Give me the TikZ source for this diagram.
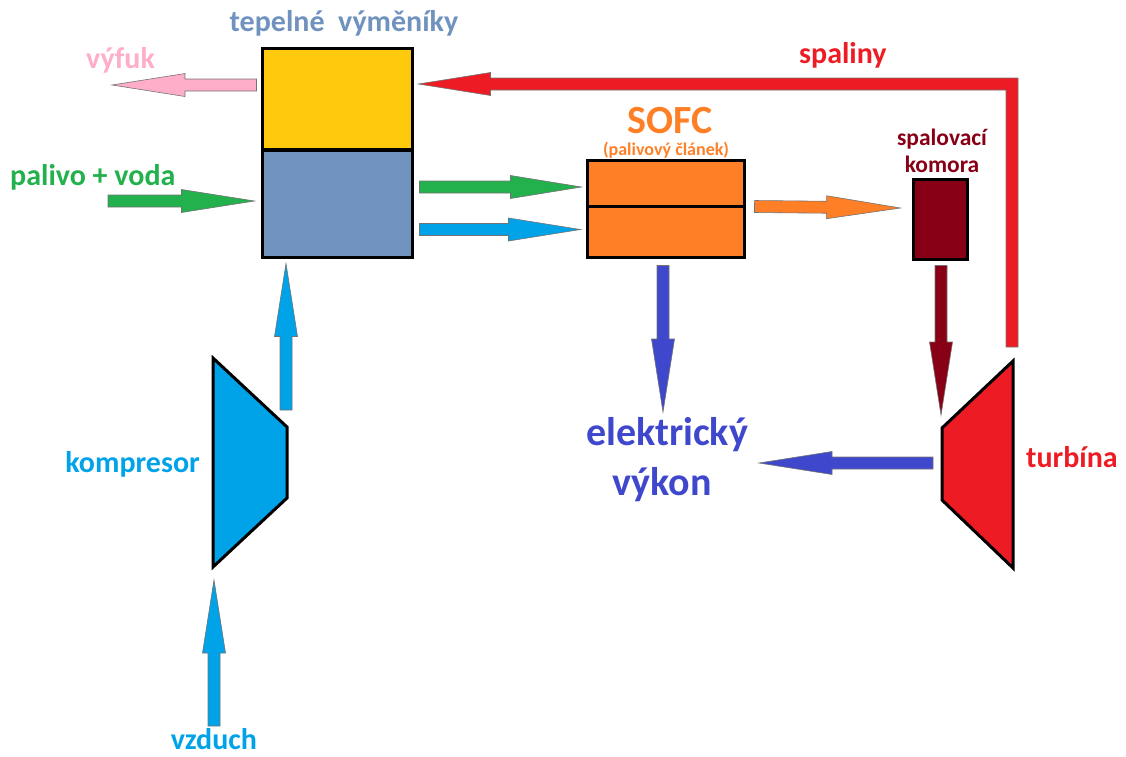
\documentclass[tikz,border=0pt]{standalone}
\usepackage{fontspec}
\setmainfont{Carlito}
\usetikzlibrary{calc}
\definecolor{hxblue}{RGB}{112,146,190}
\definecolor{hxgold}{RGB}{255,201,14}
\definecolor{ppink}{RGB}{255,174,201}
\definecolor{pred}{RGB}{237,28,36}
\definecolor{pgreen}{RGB}{34,177,76}
\definecolor{pturq}{RGB}{0,162,232}
\definecolor{porange}{RGB}{255,127,39}
\definecolor{pdarkred}{RGB}{136,0,21}
\definecolor{pindigo}{RGB}{63,72,204}
\newcommand{\barrow}[4]{%
  \coordinate (ba-h) at ($(#3)!#4!(#2)$);
  \filldraw[fill=#1, draw=black!55, line width=0.6pt, line join=miter]
    ($(#2)!6pt!90:(#3)$) -- ($(ba-h)!6pt!-90:(#2)$) -- ($(ba-h)!11.5pt!-90:(#2)$) -- (#3)
    -- ($(ba-h)!11.5pt!90:(#2)$) -- ($(ba-h)!6pt!90:(#2)$) -- ($(#2)!6pt!-90:(#3)$) -- cycle;
}
\begin{document}
\begin{tikzpicture}[x=1pt,y=-1pt,
  lbl/.style={inner sep=0pt, font=\bfseries\fontsize{30}{34}\selectfont},
  big/.style={inner sep=0pt, font=\bfseries\fontsize{40}{44}\selectfont},
  box/.style={draw=black, line width=3pt, inner sep=0pt, line join=miter},
  machine/.style={draw=black, line width=3pt, line join=miter}]
\useasboundingbox (0,0) rectangle (1126,756);

% heat exchangers
\node[box, fill=hxgold, minimum width=150pt, minimum height=101pt] (hxt) at (337,98.5) {};
\node[box, fill=hxblue, minimum width=150pt, minimum height=107pt] (hxb) at (337,203.5) {};
% SOFC
\node[box, fill=porange, minimum width=157pt, minimum height=46pt] (sofct) at (665.5,183) {};
\node[box, fill=porange, minimum width=157pt, minimum height=51pt] (sofcb) at (665.5,231.5) {};
% combustion chamber
\node[box, fill=pdarkred, minimum width=54pt, minimum height=80pt] (comb) at (940,219) {};

% compressor and turbine
\draw[machine, fill=pturq] (213,358) coordinate (compTL) -- (287,427) coordinate (compTR)
  -- (287,498) -- (213,567) coordinate (compBL) -- cycle;
\draw[machine, fill=pred] (942,428) -- (1013,361) coordinate (turbTR)
  -- (1013,568) -- (942,500) -- cycle;

% labels
\node[lbl, text=hxblue, anchor=base] (tHX) at (344,31) {tepelné\hspace{0.45em}výměníky};
\node[lbl, text=ppink, anchor=base west] (tVyfuk) at (86,68) {výfuk};
\node[lbl, text=pgreen, anchor=base west] (tPal) at (10,185) {palivo + voda};
\node[big, text=porange, anchor=base] (tSOFC) at (670,133) {SOFC};
\node[inner sep=0pt, font=\bfseries\fontsize{18}{20}\selectfont, text=porange, anchor=base] (tSOFC2) at (666,155) {(palivový článek)};
\node[inner sep=0pt, font=\bfseries\fontsize{23.5}{26}\selectfont, text=pdarkred, anchor=base] (tSp1) at (942,145) {spalovací};
\node[inner sep=0pt, font=\bfseries\fontsize{23.5}{26}\selectfont, text=pdarkred, anchor=base] (tSp2) at (942,172) {komora};
\node[big, text=pindigo, anchor=base] (tEl1) at (667,445) {elektrický};
\node[big, text=pindigo, anchor=base] (tEl2) at (662,495) {výkon};
\node[lbl, text=pturq, anchor=base east] (tKomp) at (200,472) {kompresor};
\node[lbl, text=pred, anchor=base west] (tSpal) at (799,63) {spaliny};
\node[lbl, text=pred, anchor=base west] (tTurb) at (1026,467) {turbína};
\node[lbl, text=pturq, anchor=base] (tVzd) at (214,749) {vzduch};

% arrow end points
\coordinate (vyfS) at ($(hxt.west)+(-4,-13.5)$);
\coordinate (vyfT) at (112,85);
\coordinate (palS) at (108,201);
\coordinate (palT) at ($(hxb.west)+(-6,-2.5)$);
\coordinate (grS) at ($(hxb.east)+(6,-16.5)$);
\coordinate (grT) at ($(sofct.west)+(-4,4)$);
\coordinate (blS) at ($(hxb.east)+(6,26)$);
\coordinate (blT) at ($(sofcb.west)+(-5,-2)$);
\coordinate (orS) at ($(sofcb.north east)+(9,2)$);
\coordinate (orT) at ($(comb.west)+(-11,-11)$);
\coordinate (elS) at ($(sofcb.south)+(-2.5,7)$);
\coordinate (elT) at (663,412);
\coordinate (crS) at ($(comb.south)+(1,5)$);
\coordinate (crT) at (941,415);
\coordinate (cuS) at (286,410);
\coordinate (cuT) at ($(hxb.south)+(-51,5)$);
\coordinate (vzS) at (214,726);
\coordinate (vzT) at (214,580);
\coordinate (tlS) at (933,463);
\coordinate (tlT) at (759,463);

\barrow{ppink}{vyfS}{vyfT}{73pt}
\barrow{pgreen}{palS}{palT}{73pt}
\barrow{pgreen}{grS}{grT}{71pt}
\barrow{pturq}{blS}{blT}{72pt}
\barrow{porange}{orS}{orT}{74pt}
\barrow{pindigo}{elS}{elT}{73pt}
\barrow{pdarkred}{crS}{crT}{73pt}
\barrow{pturq}{cuS}{cuT}{73pt}
\barrow{pturq}{vzS}{vzT}{73pt}
\barrow{pindigo}{tlS}{tlT}{73pt}

% spaliny return line
\coordinate (spB) at (1012,347);
\coordinate (spC) at (1012,84);
\coordinate (spT) at ($(hxt.east)+(5,-14.5)$);
\filldraw[fill=pred, draw=black!55, line width=0.6pt, line join=miter]
  ($(spB)+(6,0)$) -- ($(spC)+(6,-6)$) -- ($(spT)+(72,-6)$) -- ($(spT)+(72,-11.5)$) -- (spT)
  -- ($(spT)+(72,11.5)$) -- ($(spT)+(72,6)$) -- ($(spC)+(-6,6)$) -- ($(spB)+(-6,0)$) -- cycle;
\end{tikzpicture}
\end{document}
